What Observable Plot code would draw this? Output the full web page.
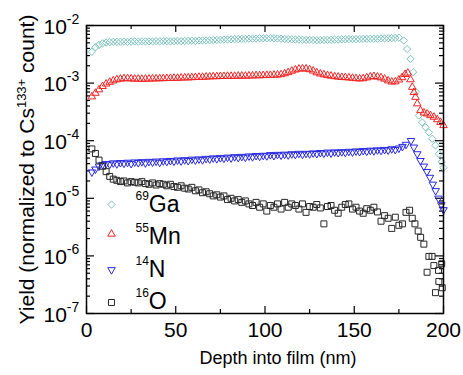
<!DOCTYPE html>
<html><head><meta charset="utf-8">
<script src="https://cdn.jsdelivr.net/npm/d3@7"></script>
<script src="https://cdn.jsdelivr.net/npm/@observablehq/plot@0.6"></script>
<style>body{margin:0;background:#fff}</style>
</head><body><div id="chart"></div>
<script>
// ---------- data ----------
const depthBody = [3,5,7,9,11,13,15,17,19,21,23,25,27,29,31,33,35,37,39,41,43,45,47,49,51,53,55,57,59,61,63,65,67,69,71,73,75,77,79,81,83,85,87,89,91,93,95,97,99,101,103,105,107,109,111,113,115,117,119,121,123,125,127,129,131,133,135,137,139,141,143,145,147,149,151,153,155,157,159,161,163,165,167,169,171,173,175];

// 69Ga (x 1e-3)
const gaBody = [3.5,4.2,4.6,4.9,5.05,5.15,5.2,5.2,5.25,5.25,
  5.2,5.25,5.3,5.25,5.3,5.3,5.3,5.3,5.35,5.3,
  5.35,5.35,5.3,5.35,5.4,5.35,5.4,5.4,5.45,5.4,
  5.5,5.5,5.5,5.55,5.6,5.6,5.65,5.7,5.7,5.75,
  5.8,5.8,5.85,5.85,5.9,5.9,5.95,6.0,6.0,6.0,
  6.05,6.0,5.95,5.9,5.85,5.8,5.75,5.7,5.7,5.65,
  5.6,5.6,5.6,5.55,5.6,5.6,5.65,5.65,5.7,5.7,
  5.75,5.75,5.8,5.8,5.8,5.85,5.85,5.85,5.9,5.9,
  5.9,5.95,5.95,6.0,6.05,6.1,6.15];
const gaTailDepth = [177.7,179.6,181.5,183,184.6,186.2,188,190,191.8,193.7,195.5,197.4,199,200];
const gaTail = [5.5e-3,3.9e-3,2.64e-3,1.55e-3,7.0e-4,2.74e-4,2.09e-4,1.71e-4,1.4e-4,1.08e-4,8.3e-5,5.9e-5,4.3e-5,3.4e-5];

// 55Mn (x 1e-3)
const mnBody = [0.58,0.67,0.77,0.88,0.97,1.04,1.1,1.15,1.18,1.2,
  1.2,1.19,1.18,1.18,1.17,1.18,1.18,1.19,1.19,1.2,
  1.2,1.21,1.21,1.22,1.22,1.23,1.24,1.24,1.25,1.26,
  1.27,1.27,1.28,1.29,1.3,1.3,1.31,1.31,1.32,1.32,
  1.32,1.33,1.33,1.33,1.34,1.34,1.35,1.35,1.36,1.37,
  1.37,1.38,1.39,1.41,1.46,1.53,1.62,1.7,1.76,1.78,
  1.77,1.72,1.63,1.52,1.45,1.4,1.36,1.33,1.3,1.28,
  1.26,1.25,1.24,1.22,1.2,1.19,1.2,1.24,1.29,1.31,
  1.28,1.24,1.18,1.1,1.05,1.06,1.14];
const mnTailDepth = [176.8,178.5,180,181.5,182.5,183.4,184.3,185.3,187.1,189,190.9,192.7,194.6,196.5,198.3,200];
const mnTail = [1.25e-3,1.42e-3,1.5e-3,1.15e-3,8.5e-4,6.9e-4,5.7e-4,4.4e-4,3.35e-4,3.05e-4,2.93e-4,2.74e-4,2.57e-4,2.33e-4,2.09e-4,1.84e-4];

// 14N (x 1e-5)
const nBody = [2.85,3.2,3.6,3.85,4.0,3.9,4.1,3.95,4.15,4.05,
  4.2,4.0,4.25,4.15,4.3,4.1,4.35,4.25,4.4,4.2,
  4.45,4.35,4.5,4.4,4.6,4.45,4.65,4.5,4.75,4.6,
  4.8,4.65,4.9,4.8,5.0,4.85,5.05,4.95,5.15,5.0,
  5.25,5.1,5.3,5.15,5.4,5.25,5.5,5.35,5.55,5.45,
  5.7,5.5,5.75,5.6,5.8,5.65,5.9,5.75,6.0,5.8,
  6.0,5.9,6.1,5.95,6.2,6.05,6.3,6.1,6.35,6.2,
  6.4,6.25,6.5,6.35,6.6,6.45,6.7,6.55,6.8,6.65,
  6.9,6.75,7.0,6.85,7.2,7.0,7.4];
const nTailDepth = [177,179,181.8,183.4,185.3,187.1,189,190.7,192.4,194,195.6,197.2,198.8,200];
const nTail = [7.9e-5,8.6e-5,1.0e-4,7.7e-5,5.9e-5,4.5e-5,3.6e-5,2.9e-5,2.3e-5,1.75e-5,1.35e-5,1.0e-5,7.7e-6,6.3e-6];

// 16O (x 1e-5)
const oBody = [7.2,6.0,4.6,3.6,2.9,2.4,2.15,2.05,1.95,2.0,
  1.85,1.95,1.9,1.85,1.95,1.8,1.75,1.85,1.7,1.8,
  1.75,1.65,1.75,1.6,1.55,1.65,1.5,1.45,1.55,1.35,
  1.4,1.25,1.3,1.2,1.1,1.15,1.05,1.1,0.95,1.0,
  0.9,0.95,0.85,0.9,0.8,0.75,0.85,0.7,0.8,0.6,
  0.75,0.7,0.8,0.65,0.85,0.7,0.8,0.75,0.65,0.8,
  0.57,0.72,0.7,0.78,0.68,0.36,0.72,0.75,0.62,0.55,
  0.7,0.78,0.8,0.65,0.7,0.6,0.55,0.66,0.62,0.7,
  0.58,0.4,0.5,0.45,0.3,0.47,0.34];
const oTailDepth = [177,179,181,182.5,184,185.8,187.2,189,190.8,191.8,193.6,194.6,195.5,197.2,197.4,199,199.3];
const oTail = [3.6e-6,5.7e-6,6.2e-6,4.5e-6,3.6e-6,2.7e-6,2.1e-6,1.6e-6,5.2e-7,9.8e-7,9.8e-7,6.8e-7,2.3e-7,5.6e-7,3.6e-7,7.3e-7,2.8e-7];

const isotopes = ["69","55","14","16"];
const elements = ["Ga","Mn","N","O"];
const xTickLabels = [0,50,100,150,200];
const xMinorTicks = [25,75,125,175];
const decadeExponents = [-7,-6,-5,-4,-3,-2];
const minorMultipliers = [2,3,4,5,6,7,8,9];

// ---------- build ----------
function series(depths, vals, unit, tD, tV) {
  return depths.map((d,i)=>({depth:d, yld: vals[i]*unit})).concat(tD.map((d,i)=>({depth:d, yld:tV[i]})));
}
const ga = series(depthBody, gaBody, 1e-3, gaTailDepth, gaTail);
const mn = series(depthBody, mnBody, 1e-3, mnTailDepth, mnTail);
const ni = series(depthBody, nBody, 1e-5, nTailDepth, nTail);
const ox = series(depthBody, oBody, 1e-5, oTailDepth, oTail);

const triDown = {draw(ctx, size){const s=Math.sqrt(size)*0.6824,t=s/2,u=s*Math.sqrt(3)/2;ctx.moveTo(0,s);ctx.lineTo(-u,-t);ctx.lineTo(u,-t);ctx.closePath();}};
const styleS = [
  {symbol:"diamond2", r:3.3, stroke:"#7cc3bd"},
  {symbol:"triangle2", r:3.6, stroke:"#f02424"},
  {symbol:triDown, r:3.6, stroke:"#2a2ae0"},
  {symbol:"square2", r:3.8, stroke:"#262626"}
];
const datasets = [ga, mn, ni, ox];
const legendMarkerDy = [179, 208.5, 244.3, 277];
const legendTextDy = [186.5, 218.3, 251.7, 283.5];

const yMajor = decadeExponents.map(e=>10**e);
const yMinor = decadeExponents.slice(0,-1).flatMap(e=>minorMultipliers.map(m=>m*10**e));

const FW = 357, FH = 288;
const tk = {stroke:"black", strokeWidth:1.2};
const font = "'Liberation Sans', Arial, Helvetica, sans-serif";

const marks = [
  Plot.tickX(xTickLabels, {x:d=>d, insetTop:FH-7, ...tk}),
  Plot.tickX(xTickLabels, {x:d=>d, insetBottom:FH-7, ...tk}),
  Plot.tickX(xMinorTicks, {x:d=>d, insetTop:FH-4, ...tk}),
  Plot.tickX(xMinorTicks, {x:d=>d, insetBottom:FH-4, ...tk}),
  Plot.tickY(yMajor, {y:d=>d, insetRight:FW-8, ...tk}),
  Plot.tickY(yMajor, {y:d=>d, insetLeft:FW-8, ...tk}),
  Plot.tickY(yMinor, {y:d=>d, insetRight:FW-4, ...tk}),
  Plot.tickY(yMinor, {y:d=>d, insetLeft:FW-4, ...tk}),
];
datasets.forEach((ds,k)=>{
  marks.push(Plot.dot(ds, {x:"depth", y:"yld", ...styleS[k], fill:"none", strokeWidth:1}));
});
marks.push(Plot.frame({stroke:"black", strokeWidth:1.5}));
// legend
elements.forEach((el,k)=>{
  marks.push(Plot.dot([el], {frameAnchor:"top-left", dx:25, dy:legendMarkerDy[k], ...styleS[k], fill:"none", strokeWidth:1}));
  marks.push(Plot.text([el], {frameAnchor:"top-left", dx:49, dy:legendTextDy[k], text:()=>"^"+isotopes[k]+"|"+el, fontSize:23, textAnchor:"start", lineAnchor:"bottom", fill:"black"}));
});
// tick labels
marks.push(Plot.text(yMajor, {y:d=>d, frameAnchor:"left", dx:-43, dy:8, text:(d,i)=>"10|^"+decadeExponents[i], fontSize:21, textAnchor:"start", lineAnchor:"bottom", fill:"black"}));
marks.push(Plot.text(xTickLabels, {x:d=>d, frameAnchor:"bottom", dy:23, text:d=>String(d), fontSize:21, textAnchor:"middle", lineAnchor:"bottom", fill:"black"}));
// axis titles
marks.push(Plot.text(["Depth into film (nm)"], {frameAnchor:"bottom", dx:13, dy:50, text:d=>d, fontSize:18, textAnchor:"middle", lineAnchor:"bottom", fill:"black"}));
marks.push(Plot.text(["Yield (normalized to Cs|^133+| count)"], {frameAnchor:"left", dx:-53, rotate:-90, text:d=>d, fontSize:21, textAnchor:"middle", lineAnchor:"bottom", fill:"black"}));

const svg = Plot.plot({
  width:463, height:375,
  marginLeft:86, marginRight:20, marginTop:25, marginBottom:62,
  x:{domain:[0,200], axis:null},
  y:{type:"log", domain:[1e-7,1e-2], axis:null},
  style:{fontFamily:font, background:"white", overflow:"visible"},
  marks
});

function rich(node, sup, rise) {
  const parts = node.textContent.split("|");
  while (node.firstChild) node.removeChild(node.firstChild);
  let raised = false;
  for (const p of parts) {
    const isSup = p.startsWith("^");
    const ts = document.createElementNS("http://www.w3.org/2000/svg","tspan");
    ts.textContent = isSup ? p.slice(1) : p;
    if (isSup) { ts.setAttribute("font-size", sup); ts.setAttribute("dy", -rise); raised = true; }
    else if (raised) { ts.setAttribute("dy", rise); raised = false; }
    node.appendChild(ts);
  }
}
svg.querySelectorAll("text").forEach(t=>{
  const s = t.textContent;
  if (!s.includes("|")) return;
  if (s.startsWith("10|")) rich(t, 14, 10);
  else if (s.includes("Cs")) rich(t, 13, 8);
  else rich(t, 12, 12);
});
document.getElementById("chart").appendChild(svg);
</script></body></html>
